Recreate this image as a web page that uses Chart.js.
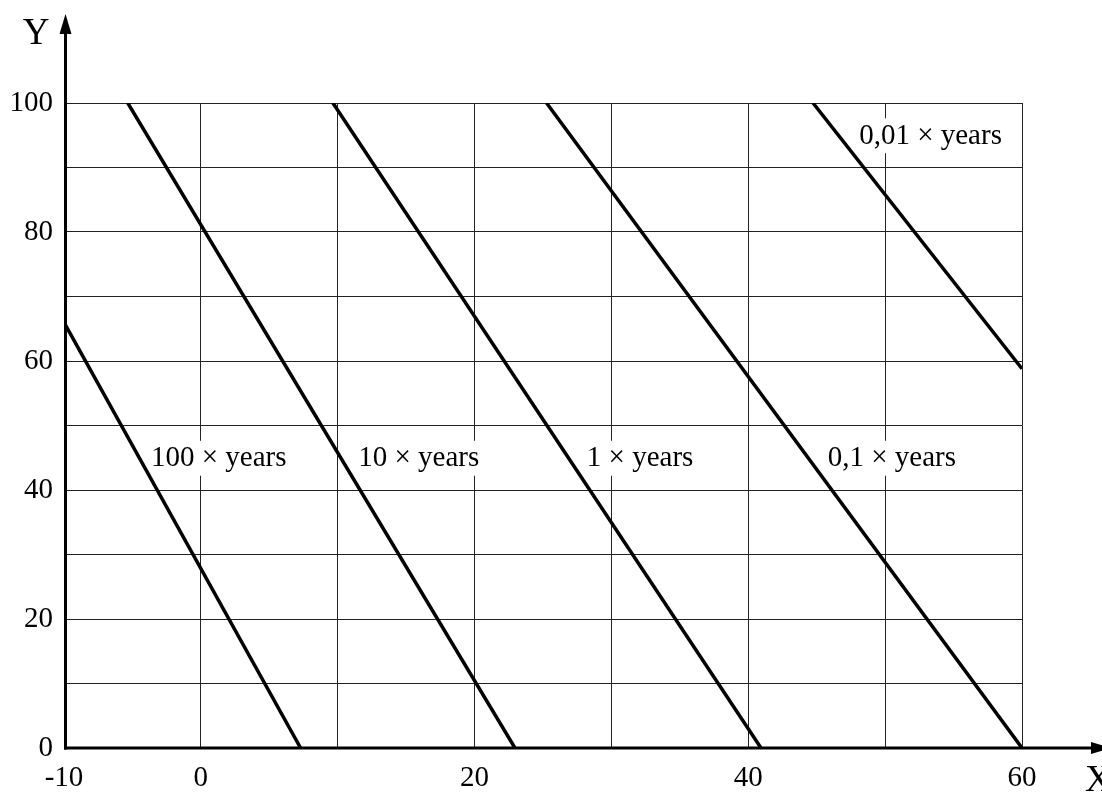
<!DOCTYPE html>
<html>
<head>
<meta charset="utf-8">
<script src="https://cdn.jsdelivr.net/npm/chart.js@4/dist/chart.umd.min.js"></script>
<style>
  html, body { margin: 0; padding: 0; background: #fff; }
  canvas { display: block; }
</style>
</head>
<body>
<canvas id="c" width="1102" height="792"></canvas>
<script>
// ---- data ----
const seriesNames = ['100 × years', '10 × years', '1 × years', '0,1 × years', '0,01 × years'];
const startX = [-10, -5.34, 9.65, 25.26, 44.73];
const startY = [66.0, 100, 100, 100, 100];
const endX = [7.29, 22.95, 40.93, 60, 60];
const endY = [0, 0, 0, 0, 58.8];
// label anchors (data units: left edge, vertical centre)
const labelX = [-3.65, 11.5, 28.2, 45.8, 48.1];
const labelY = [45, 45, 45, 45, 95];
const xTickLabels = [-10, 0, 20, 40, 60];
const yTickLabels = [0, 20, 40, 60, 80, 100];
const xAxisTitle = 'X';
const yAxisTitle = 'Y';

const FONT = 'Liberation Serif';

const datasets = seriesNames.map((name, i) => ({
  label: name,
  data: [{x: startX[i], y: startY[i]}, {x: endX[i], y: endY[i]}],
  showLine: true,
  borderColor: '#000',
  backgroundColor: '#000',
  borderWidth: 3.5,
  pointRadius: 0,
  pointHoverRadius: 0,
  borderCapStyle: 'butt',
  fill: false
}));

const labelPlugin = {
  id: 'lineLabels',
  beforeDatasetsDraw(chart) {
    const ctx = chart.ctx;
    const xs = chart.scales.x, ys = chart.scales.y;
    ctx.save();
    ctx.font = '29px "' + FONT + '"';
    ctx.textBaseline = 'middle';
    ctx.textAlign = 'left';
    seriesNames.forEach((name, i) => {
      const px = xs.getPixelForValue(labelX[i]);
      const py = ys.getPixelForValue(labelY[i]);
      const w = ctx.measureText(name).width;
      ctx.fillStyle = '#fff';
      ctx.fillRect(px - 4, py - 17, w + 8, 35);
      ctx.fillStyle = '#000';
      ctx.fillText(name, px, py + 1);
    });
    ctx.restore();
  }
};

const axesPlugin = {
  id: 'arrowAxes',
  afterDraw(chart) {
    const ctx = chart.ctx;
    const xs = chart.scales.x, ys = chart.scales.y;
    const x0 = xs.getPixelForValue(xs.min) + 1.5;
    const y0 = ys.getPixelForValue(ys.min);
    ctx.save();
    ctx.strokeStyle = '#000';
    ctx.fillStyle = '#000';
    ctx.lineWidth = 3;
    // Y axis
    ctx.beginPath();
    ctx.moveTo(x0, y0 + 1.5);
    ctx.lineTo(x0, 30);
    ctx.stroke();
    ctx.beginPath();
    ctx.moveTo(x0, 14);
    ctx.lineTo(x0 - 6, 34);
    ctx.lineTo(x0 + 6, 34);
    ctx.closePath();
    ctx.fill();
    // X axis
    ctx.beginPath();
    ctx.moveTo(x0 - 1.5, y0);
    ctx.lineTo(1095, y0);
    ctx.stroke();
    ctx.beginPath();
    ctx.moveTo(1111, y0);
    ctx.lineTo(1091, y0 - 6);
    ctx.lineTo(1091, y0 + 6);
    ctx.closePath();
    ctx.fill();
    // axis titles
    ctx.font = '37px "' + FONT + '"';
    ctx.textBaseline = 'middle';
    ctx.textAlign = 'center';
    ctx.fillText(yAxisTitle, 36, 34);
    ctx.textAlign = 'left';
    ctx.fillText(xAxisTitle, 1085, 781);
    ctx.restore();
  }
};

new Chart(document.getElementById('c'), {
  type: 'scatter',
  data: { datasets },
  options: {
    responsive: false,
    animation: false,
    devicePixelRatio: 1,
    layout: { padding: { top: 103, right: 80, left: 0, bottom: 0 } },
    plugins: { legend: { display: false }, tooltip: { enabled: false } },
    scales: {
      x: {
        type: 'linear',
        min: -10, max: 60,
        afterFit: (s) => { s.height = 44; },
        border: { display: false },
        grid: { color: '#222', lineWidth: 1, drawTicks: false },
        ticks: {
          stepSize: 10, autoSkip: false, maxRotation: 0, padding: 13,
          color: '#000', font: { family: FONT, size: 29 },
          callback: (v) => xTickLabels.includes(v) ? String(v) : ''
        }
      },
      y: {
        type: 'linear',
        min: 0, max: 100,
        afterFit: (s) => { s.width = 64; },
        border: { display: false },
        grid: { color: '#222', lineWidth: 1, drawTicks: false },
        ticks: {
          stepSize: 10, autoSkip: false, padding: 11,
          color: '#000', font: { family: FONT, size: 29 },
          callback: (v) => yTickLabels.includes(v) ? String(v) : ''
        }
      }
    }
  },
  plugins: [labelPlugin, axesPlugin]
});
</script>
</body>
</html>
